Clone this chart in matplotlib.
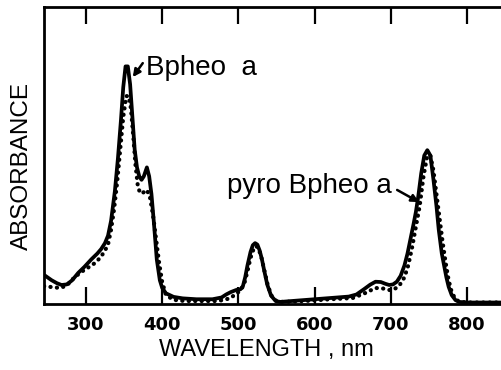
import matplotlib
matplotlib.use("Agg")
import matplotlib.pyplot as plt
from matplotlib import font_manager

# Bpheo a (solid)
wl_solid = [245, 255, 262, 268, 275, 282, 290, 298, 307, 315, 320, 325, 329, 333, 338, 342, 346, 349, 352, 355, 358, 361,
            364, 367, 370, 373, 376, 380, 383, 386, 389, 393, 397, 400, 405, 415, 427, 445, 466, 478, 484, 490, 497, 503,
            506, 509, 512, 516, 519, 522, 525, 528, 531, 534, 538, 543, 549, 555, 565, 585, 605, 625, 645, 655, 665, 673,
            680, 687, 693, 698, 703, 708, 713, 718, 722, 726, 730, 733, 736, 740, 744, 748, 752, 756, 760, 763, 767, 770,
            773, 776, 780, 785, 790, 800, 820, 846]
ab_solid = [0.098, 0.08, 0.07, 0.064, 0.066, 0.08, 0.105, 0.125, 0.15, 0.17, 0.185, 0.205, 0.23, 0.28, 0.38, 0.49, 0.62,
            0.73, 0.80, 0.80, 0.74, 0.63, 0.52, 0.46, 0.43, 0.418, 0.43, 0.46, 0.43, 0.37, 0.28, 0.15, 0.08, 0.055, 0.036,
            0.024, 0.019, 0.016, 0.016, 0.022, 0.032, 0.04, 0.047, 0.05, 0.06, 0.09, 0.13, 0.175, 0.198, 0.205, 0.2, 0.18,
            0.15, 0.112, 0.065, 0.028, 0.01, 0.007, 0.009, 0.013, 0.017, 0.021, 0.025, 0.032, 0.05, 0.065, 0.075, 0.074,
            0.068, 0.064, 0.066, 0.075, 0.095, 0.13, 0.17, 0.22, 0.27, 0.31, 0.36, 0.44, 0.5, 0.518, 0.5, 0.42, 0.33, 0.25,
            0.17, 0.13, 0.09, 0.058, 0.03, 0.013, 0.007, 0.005, 0.005, 0.005]

# pyro Bpheo a (dotted)
wl_dot = [245, 255, 266, 275, 281, 290, 298, 305, 313, 320, 325, 329, 333, 337, 341, 345, 349, 353, 356, 359, 362, 365,
          368, 371, 375, 380, 384, 388, 392, 396, 400, 405, 415, 430, 450, 470, 480, 490, 497, 503, 508, 512, 516, 520,
          523, 526, 530, 534, 538, 543, 549, 555, 570, 600, 620, 650, 665, 680, 690, 698, 705, 712, 718, 723, 728, 733,
          738, 743, 748, 752, 756, 760, 764, 768, 772, 776, 780, 785, 790, 800, 820, 846]
ab_dot = [0.06, 0.057, 0.054, 0.062, 0.08, 0.1, 0.115, 0.126, 0.14, 0.16, 0.18, 0.2, 0.25, 0.32, 0.41, 0.52, 0.63, 0.70,
          0.70, 0.66, 0.57, 0.47, 0.40, 0.373, 0.375, 0.384, 0.36, 0.3, 0.22, 0.14, 0.075, 0.03, 0.014, 0.01, 0.01, 0.01,
          0.013, 0.02, 0.035, 0.045, 0.07, 0.11, 0.155, 0.185, 0.195, 0.19, 0.16, 0.115, 0.07, 0.03, 0.012, 0.007, 0.008,
          0.012, 0.016, 0.02, 0.035, 0.054, 0.052, 0.047, 0.05, 0.065, 0.09, 0.13, 0.19, 0.26, 0.33, 0.43, 0.5, 0.5,
          0.45, 0.37, 0.29, 0.21, 0.14, 0.08, 0.04, 0.016, 0.008, 0.005, 0.005, 0.005]

xticks = [300, 400, 500, 600, 700, 800]

avail = {f.name for f in font_manager.fontManager.ttflist}
tick_font = "Liberation Sans Narrow" if "Liberation Sans Narrow" in avail else "DejaVu Sans"
text_font = ["Liberation Sans", "DejaVu Sans"]

fig = plt.figure(figsize=(5.02, 3.70), dpi=100)
ax = fig.add_axes([44/502, 1-304/370, 1-44/502, 297/370])

ax.plot(wl_solid, ab_solid, color="black", lw=2.7, solid_joinstyle="round", solid_capstyle="round")
ax.plot(wl_dot, ab_dot, color="black", lw=3.0, linestyle=(0, (0.05, 1.5)), dash_capstyle="round")

ax.set_xlim(245, 846)
ax.set_ylim(0, 1)
ax.set_yticks([])
ax.set_xticks(xticks)
ax.set_xticklabels([str(t) for t in xticks],
                   fontdict=dict(family=tick_font, weight="bold", size=13))
ax.tick_params(axis="x", direction="in", length=12, width=1.6, top=True, bottom=True, pad=9)
ax.spines["right"].set_visible(False)
for s in ["left", "top", "bottom"]:
    ax.spines[s].set_linewidth(2.0)

fig.text(266/502, 1-350/370, "WAVELENGTH , nm", fontsize=17, family=text_font, ha="center", va="center")
fig.text(22/502, 1-166/370, "ABSORBANCE", fontsize=17.5, family=text_font, ha="center", va="center",
         rotation=90)

ax.text(378.5, 0.771, "Bpheo  a", fontsize=20, family=text_font, ha="left", va="baseline")
ax.text(484.6, 0.374, "pyro Bpheo a", fontsize=20, family=text_font, ha="left", va="baseline")
ax.annotate("", xy=(361.5, 0.764), xytext=(374.6, 0.811),
            arrowprops=dict(arrowstyle="-|>", color="black", lw=1.8, mutation_scale=11, shrinkA=0, shrinkB=0))
ax.annotate("", xy=(737.2, 0.343), xytext=(708.4, 0.384),
            arrowprops=dict(arrowstyle="-|>", color="black", lw=1.8, mutation_scale=11, shrinkA=0, shrinkB=0))

fig.savefig("out.png", dpi=100)
